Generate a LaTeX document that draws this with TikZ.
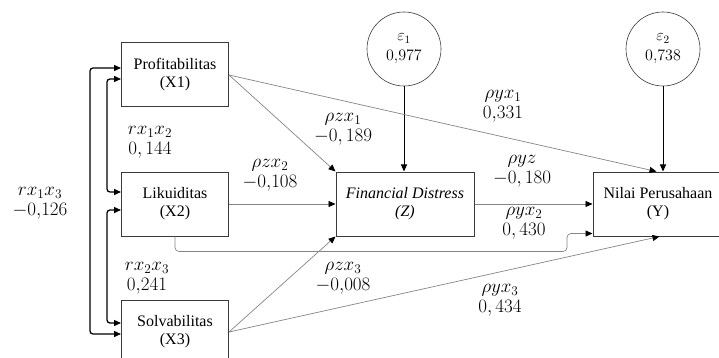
\RequirePackage{fix-cm}
\documentclass[tikz,border=0pt]{standalone}
\usepackage{fontspec}
\setmainfont{Liberation Serif}
\usepackage{xcolor}
\definecolor{bxline}{HTML}{3A3A3A}
\definecolor{pathgray}{HTML}{858585}
\usetikzlibrary{arrows.meta,positioning,calc}

\begin{document}
\begin{tikzpicture}[x=1pt,y=-1pt,>={Triangle[length=7pt,width=6pt]}]
\tikzset{
 n/.style={draw=bxline,line width=1pt,minimum width=107pt,minimum height=64pt,align=center,inner sep=1pt,font=\fontsize{16}{18}\selectfont},
 e/.style={draw=bxline,circle,line width=0.6pt,minimum size=74pt,inner sep=0pt,align=center,font=\fontsize{16}{20}\selectfont},
 a/.style={-{Triangle[length=7pt,width=6pt,color=black]},draw=pathgray,line width=0.7pt},
 v/.style={->,line width=1pt},
 c/.style={<->,line width=1.3pt,rounded corners=3pt},
 l/.style={align=center,inner sep=0pt,font=\fontsize{19}{20}\selectfont}
}
\useasboundingbox (0,0) rectangle (719,358);
\clip (0,0) rectangle (719,358);
% boxes
\node[n] (x1) at (175,75) {Profitabilitas\\(X1)};
\node[n] (x2) at (175,204) {Likuiditas\\(X2)};
\node[n] (x3) at (175,332) {Solvabilitas\\(X3)};
\node[n,minimum width=138pt,font=\fontsize{16}{18}\selectfont\itshape] (z) at (405,204) {Financial Distress\\(Z)};
\node[n,minimum width=130pt] (y) at (658,204) {Nilai Perusahaan\\(Y)};
% error terms
\node[e] (e1) at (404,49) {$\varepsilon_1$\\$0{,}977$};
\node[e] (e2) at (663,49) {$\varepsilon_2$\\$0{,}738$};
\draw[v] (e1) -- (e1 |- z.north);
\draw[v] (e2) -- (e2 |- y.north);
% paths
\coordinate (y1in) at ($(y.north west)+(64,0)$);
\coordinate (y3in) at ($(y.south west)+(67,0)$);
\coordinate (y2in) at ($(y.south west)+(0,-3)$);
\coordinate (bend) at ($(x2.south)+(392,15)$);
\draw[a] (x1.east) -- (z.north west);
\draw[a] (x1.east) -- (y1in);
\draw[a] (x2.east) -- (z.west);
\draw[a] (z.east) -- (y.west);
\draw[a,rounded corners=4pt] (x2.south) |- (bend) |- (y2in);
\draw[a] (x3.east) -- (z.south west);
\draw[a] (x3.east) -- (y3in);
% correlations
\draw[c] ($(x1.west)+(0,-7)$) -- ++(-31,0) |- ($(x3.west)+(0,2)$);
\draw[c] ($(x1.west)+(0,4)$) -- ++(-14,0) |- ($(x2.west)+(0,-12)$);
\draw[c] ($(x2.west)+(0,6)$) -- ++(-14,0) |- ($(x3.west)+(0,-9)$);
% labels
\node[l] (lr13) at (40,203) {$rx_1x_3$\\$-0{,}126$};
\node[l] (lr12) at (150,142) {$rx_1x_2$\\$0,144$};
\node[l] (lr23) at (147,278) {$rx_2x_3$\\$0{,}241$};
\node[l] (lz2) at (270,175) {$\rho zx_2$\\$-0{,}108$};
\node[l] (lz1) at (343,129) {$\rho zx_1$\\$-0,189$};
\node[l] (ly1) at (503,106) {$\rho yx_1$\\$0{,}331$};
\node[l] (lyz) at (522,171) {$\rho yz$\\$-0,180$};
\node[l] (ly2) at (524,223) {$\rho yx_2$\\$0,430$};
\node[l] (lz3) at (343,278) {$\rho zx_3$\\$-0{,}008$};
\node[l] (ly3) at (500,300) {$\rho yx_3$\\$0,434$};
\end{tikzpicture}
\end{document}
